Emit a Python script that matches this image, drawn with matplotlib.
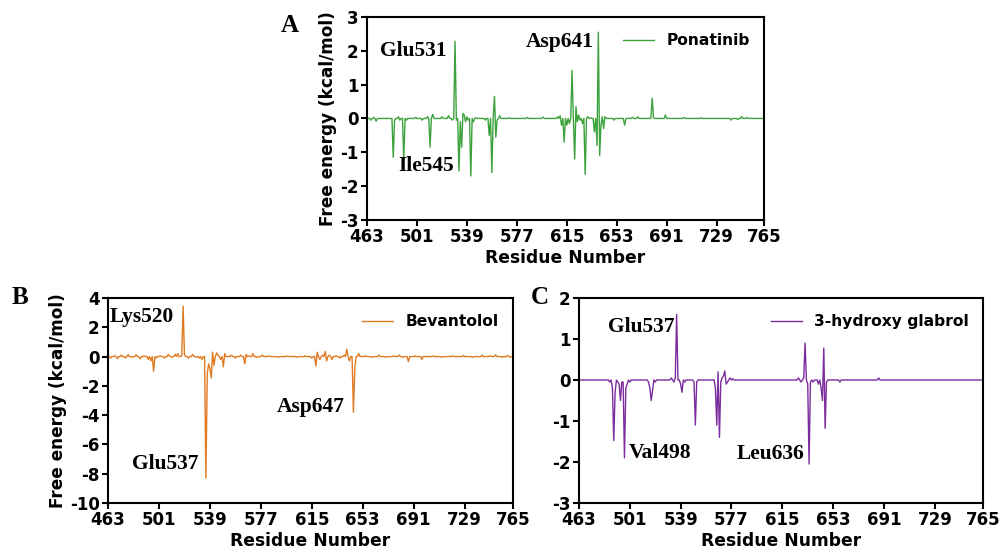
import numpy as np
import matplotlib
matplotlib.use("Agg")
import matplotlib.pyplot as plt

plt.rcParams['font.family'] = ['DejaVu Sans']
plt.rcParams['font.weight'] = 'bold'
plt.rcParams['axes.unicode_minus'] = False

# residue range shared by all three panels
residues = np.arange(463, 766)
xticks = [463, 501, 539, 577, 615, 653, 691, 729, 765]

# Ponatinib: residues with a visible contribution (others ~0)
pona_res = [466, 468, 470, 483, 484, 487, 488, 491, 493, 500, 505, 509, 511, 513,
            520, 525, 528, 530, 531, 533, 534, 535, 536, 537, 538, 539, 540, 542,
            544, 546, 553, 556, 558, 560, 561, 562, 564, 571, 585, 597, 608, 610,
            611, 613, 615, 617, 619, 621, 622, 623, 624, 625, 627, 629, 631, 633,
            636, 638, 639, 640, 641, 642, 643, 644, 651, 659, 665, 669, 680, 681,
            690, 704, 717, 740, 745, 748, 752]
pona_val = [-0.05, 0.03, -0.08, -1.15, -0.05, 0.05, -0.05, -1.2, -0.05, 0.03,
            -0.05, 0.05, -0.85, 0.12, 0.05, 0.08, -0.05, 2.28, -0.05, -1.55, -0.1,
            -0.85, 0.15, 0.1, -0.1, 0.05, -0.05, -1.7, -0.1, 0.02, -0.05, -0.5,
            -1.6, 0.65, -0.55, -0.05, 0.08, 0.02, 0.03, 0.04, 0.05, 0.08, -0.2,
            -0.7, -0.2, -0.15, 1.42, -1.2, 0.35, -0.1, 0.1, -0.05, -0.15, -1.65,
            0.05, 0.02, -0.4, -0.8, 2.55, -1.1, -0.2, 0.05, -0.3, 0.05, -0.05,
            -0.2, 0.03, 0.05, 0.6, 0.02, 0.1, 0.03, 0.02, -0.05, -0.03, 0.05, 0.03]

# Bevantolol
beva_res = [465, 468, 470, 473, 476, 478, 481, 484, 487, 490, 493, 495, 497, 499,
            502, 505, 508, 511, 513, 515, 518, 519, 520, 523, 526, 529, 531, 533,
            535, 536, 537, 538, 539, 540, 541, 542, 544, 545, 547, 549, 550, 552,
            555, 558, 562, 565, 566, 568, 571, 574, 578, 583, 590, 597, 604, 610,
            615, 618, 619, 621, 623, 625, 626, 628, 630, 633, 636, 639, 641, 643,
            644, 646, 647, 648, 650, 655, 660, 665, 670, 676, 680, 683, 687, 692,
            697, 705, 712, 720, 728, 735, 742, 748, 752, 757, 761, 763]
beva_val = [-0.1, 0.05, -0.15, 0.1, -0.1, 0.15, -0.05, 0.12, -0.15, 0.05, -0.2,
            -0.3, -1.0, -0.1, 0.05, -0.1, 0.15, -0.05, 0.15, 0.2, 0.05, 3.45, 0.1,
            -0.1, 0.15, -0.05, -0.1, -0.2, 0.0, -8.3, -1.2, -0.5, -0.8, -1.45,
            0.3, -0.6, 0.25, 0.1, -0.2, -0.7, 0.2, 0.0, 0.1, -0.1, 0.1, -0.5,
            0.15, 0.05, 0.2, -0.05, 0.1, 0.05, -0.05, 0.05, -0.05, 0.05, -0.1,
            -0.65, 0.3, -0.2, 0.1, 0.35, -0.3, 0.1, -0.2, 0.05, -0.1, 0.1, 0.5,
            -0.3, 0.0, -3.8, -0.8, 0.0, 0.2, 0.05, -0.05, 0.1, -0.05, 0.05, 0.1,
            -0.05, -0.35, 0.05, -0.2, 0.05, -0.05, 0.05, 0.08, -0.05, 0.1, 0.05,
            0.12, -0.05, 0.08, -0.05]

# 3-hydroxy glabrol
glab_res = [486, 488, 489, 490, 492, 493, 494, 495, 496, 497, 498, 499, 501, 515,
            516, 517, 518, 520, 532, 534, 535, 536, 537, 539, 540, 542, 549, 550,
            551, 565, 566, 567, 568, 569, 570, 571, 572, 573, 574, 576, 578, 627,
            629, 631, 632, 633, 634, 635, 636, 638, 642, 644, 645, 646, 647, 648,
            658, 687]
glab_val = [-0.05, -0.2, -1.48, -0.3, -0.05, -0.1, -0.5, -0.05, -0.05, -1.9,
            -0.2, -0.1, -0.05, -0.05, -0.2, -0.5, -0.25, -0.05, 0.05, -0.05,
            0.05, 1.6, 0.0, -0.1, -0.3, -0.05, -0.05, -1.1, -0.05, -0.2, -1.1,
            0.2, -1.4, -0.05, 0.05, 0.1, 0.22, -0.1, -0.05, 0.05, 0.03, 0.05,
            -0.05, 0.05, 0.9, 0.0, -0.1, -2.05, -0.05, -0.05, -0.1, -0.2, -0.5,
            0.78, -1.18, -0.05, -0.05, 0.05]


def full_series(res, val):
    y = np.zeros(len(residues))
    y[np.array(res) - residues[0]] = val
    return y


fig = plt.figure(figsize=(10.01, 5.54), dpi=100)

ax_a = fig.add_axes([0.3666, 0.603, 0.3966, 0.3664])
ax_b = fig.add_axes([0.1079, 0.0921, 0.4046, 0.370])
ax_c = fig.add_axes([0.5784, 0.0921, 0.4036, 0.370])

panels = [
    (ax_a, pona_res, pona_val, '#3ca23c', 'Ponatinib', (-3, 3), np.arange(-3, 4, 1)),
    (ax_b, beva_res, beva_val, '#e07b22', 'Bevantolol', (-10, 4), np.arange(-10, 5, 2)),
    (ax_c, glab_res, glab_val, '#7b2c9e', '3-hydroxy glabrol', (-3, 2), np.arange(-3, 3, 1)),
]

for ax, res, val, col, name, ylim, yt in panels:
    ax.plot(residues, full_series(res, val), color=col, lw=1.0, label=name)
    ax.set_xlim(463, 765)
    ax.set_ylim(*ylim)
    ax.set_xticks(xticks)
    ax.set_yticks(yt)
    ax.tick_params(labelsize=12, width=1.5, length=4, pad=2)
    for lab in ax.get_xticklabels() + ax.get_yticklabels():
        lab.set_fontweight('bold')
    for s in ax.spines.values():
        s.set_linewidth(1.5)
    ax.set_xlabel('Residue Number', fontsize=12.3, fontweight='bold', labelpad=2)
    ax.legend(loc='upper right', bbox_to_anchor=(1.0, 0.99), frameon=False,
              handlelength=2.0, prop={'weight': 'bold', 'size': 11.2})

ax_a.set_ylabel('Free energy (kcal/mol)', fontsize=12.2, fontweight='bold', labelpad=2)
ax_b.set_ylabel('Free energy (kcal/mol)', fontsize=12.2, fontweight='bold', labelpad=2)

serif = dict(family='Liberation Serif', fontweight='bold', fontsize=15.5, va='center')
ax_a.text(473, 2.0, 'Glu531', **serif)
ax_a.text(487, -1.4, 'Ile545', **serif)
ax_a.text(584, 2.25, 'Asp641', **serif)
ax_b.text(464, 2.7, 'Lys520', **serif)
ax_b.text(481, -7.35, 'Glu537', **serif)
ax_b.text(589, -3.45, 'Asp647', **serif)
ax_c.text(484.5, 1.3, 'Glu537', **serif)
ax_c.text(500.5, -1.78, 'Val498', **serif)
ax_c.text(581, -1.8, 'Leu636', **serif)

letter = dict(family='Liberation Serif', fontweight='bold', fontsize=18,
              ha='center', va='center')
fig.text(290 / 1001, 1 - 25 / 554, 'A', **letter)
fig.text(20 / 1001, 1 - 297 / 554, 'B', **letter)
fig.text(540 / 1001, 1 - 297 / 554, 'C', **letter)

fig.savefig('out.png', dpi=100)
